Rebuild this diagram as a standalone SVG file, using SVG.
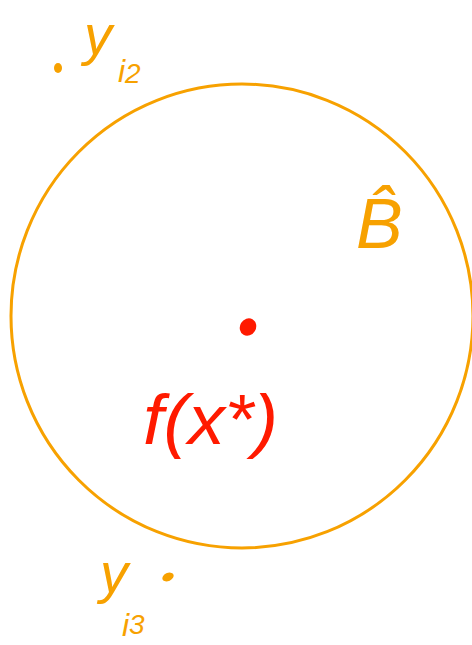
<svg xmlns="http://www.w3.org/2000/svg" width="472" height="645" viewBox="0 0 472 645">
<style>
.o{fill:#F7A100}
.r{fill:#FF1A00}
.t{font-family:"Liberation Sans",Arial,sans-serif;font-style:italic}
</style>
<rect width="472" height="645" fill="#ffffff"/>
<g id="ball">
<ellipse cx="242" cy="316" rx="231" ry="232" fill="none" stroke="#F7A100" stroke-width="3"/>
</g>
<g id="center">
<ellipse cx="248" cy="327" rx="8" ry="9" class="r" transform="rotate(30 248 327)"/>
</g>
<g id="y_i2">
<ellipse cx="58" cy="68" rx="4" ry="5" class="o"/>
<text class="t o" x="84" y="54" font-size="56">y</text>
<text class="t o" x="118" y="82" font-size="32">i<tspan font-size="28" dy="1">2</tspan></text>
</g>
<g id="y_i3">
<ellipse cx="168" cy="577" rx="6" ry="4" class="o" transform="rotate(-25 168 577)"/>
<text class="t o" x="100" y="592" font-size="56">y</text>
<text class="t o" x="122" y="636" font-size="32">i<tspan font-size="28" dy="-2">3</tspan></text>
</g>
<g id="beta_hat">
<text class="t o" x="356" y="248" font-size="70">B̂</text>
</g>
<g id="fx">
<text class="t r" x="143" y="444" font-size="70" textLength="135" lengthAdjust="spacingAndGlyphs">f(x*)</text>
</g>
</svg>
